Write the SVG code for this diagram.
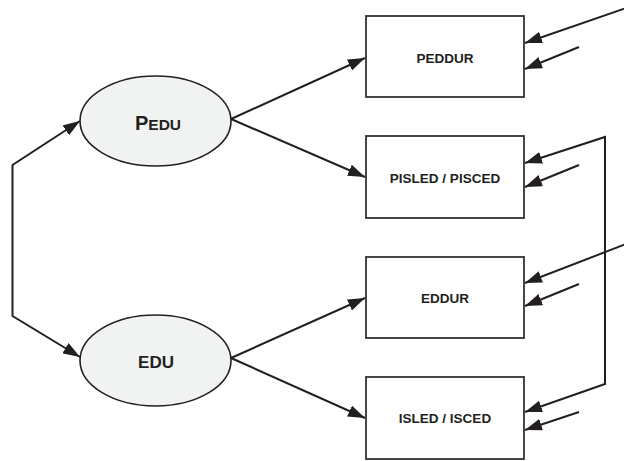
<svg xmlns="http://www.w3.org/2000/svg" width="624" height="461" viewBox="0 0 624 461">
  <style>
    .latent ellipse { fill: #f1f2f2; stroke: #231f20; stroke-width: 1.6; }
    .obs rect { fill: #ffffff; stroke: #333333; stroke-width: 1.8; }
    .lbl { font-family: "Liberation Sans", Arial, sans-serif; font-weight: bold; fill: #231f20; text-anchor: middle; }
    .box { font-size: 13.5px; }
    .conn line, .conn polyline { fill: none; stroke: #231f20; stroke-width: 2; }
  </style>
  <defs>
    <marker id="arrow" markerUnits="userSpaceOnUse" markerWidth="17" markerHeight="12" viewBox="0 0 17 12" refX="17" refY="6" orient="auto-start-reverse">
      <path d="M0,0 L17,6 L0,12 z" fill="#231f20"/>
    </marker>
  </defs>

  <!-- latent factors -->
  <g id="PEDU" class="latent">
    <ellipse cx="155.5" cy="121" rx="75.5" ry="45"/>
    <text class="lbl" x="158" y="130"><tspan font-size="20">P</tspan><tspan font-size="15.5">EDU</tspan></text>
  </g>
  <g id="EDU" class="latent">
    <ellipse cx="155.5" cy="360.5" rx="75.5" ry="45.5"/>
    <text class="lbl" x="156" y="368" font-size="17">EDU</text>
  </g>

  <!-- observed indicators -->
  <g id="PEDDUR" class="obs">
    <rect x="366" y="16" width="158" height="81"/>
    <text class="lbl box" x="445" y="63">PEDDUR</text>
  </g>
  <g id="PISLED" class="obs">
    <rect x="366" y="136" width="158" height="82"/>
    <text class="lbl box" x="445" y="183">PISLED / PISCED</text>
  </g>
  <g id="EDDUR" class="obs">
    <rect x="366" y="257" width="158" height="81"/>
    <text class="lbl box" x="445" y="303">EDDUR</text>
  </g>
  <g id="ISLED" class="obs">
    <rect x="366" y="377" width="158" height="82"/>
    <text class="lbl box" x="445" y="423">ISLED / ISCED</text>
  </g>

  <!-- paths, covariances and error terms -->
  <g id="connectors" class="conn">
    <!-- factor covariance -->
    <polyline points="80,121 12.5,165 12.5,316 80,357" marker-start="url(#arrow)" marker-end="url(#arrow)"/>
    <!-- loadings -->
    <line x1="231" y1="119" x2="365" y2="58" marker-end="url(#arrow)"/>
    <line x1="231" y1="119" x2="365" y2="177" marker-end="url(#arrow)"/>
    <line x1="231" y1="358" x2="365" y2="298" marker-end="url(#arrow)"/>
    <line x1="231" y1="358" x2="365" y2="418" marker-end="url(#arrow)"/>
    <!-- residual covariance between the ISLED / ISCED measures -->
    <polyline points="525,163 605,137 605,384 525,412" marker-start="url(#arrow)" marker-end="url(#arrow)"/>
    <!-- residual covariance from off the right edge -->
    <line x1="626" y1="8" x2="525" y2="43" marker-end="url(#arrow)"/>
    <line x1="626" y1="244" x2="525" y2="283" marker-end="url(#arrow)"/>
    <!-- error terms -->
    <line x1="579" y1="47" x2="525" y2="69" marker-end="url(#arrow)"/>
    <line x1="579" y1="165" x2="525" y2="187" marker-end="url(#arrow)"/>
    <line x1="579" y1="284" x2="525" y2="306" marker-end="url(#arrow)"/>
    <line x1="579" y1="412" x2="525" y2="430" marker-end="url(#arrow)"/>
  </g>
</svg>
